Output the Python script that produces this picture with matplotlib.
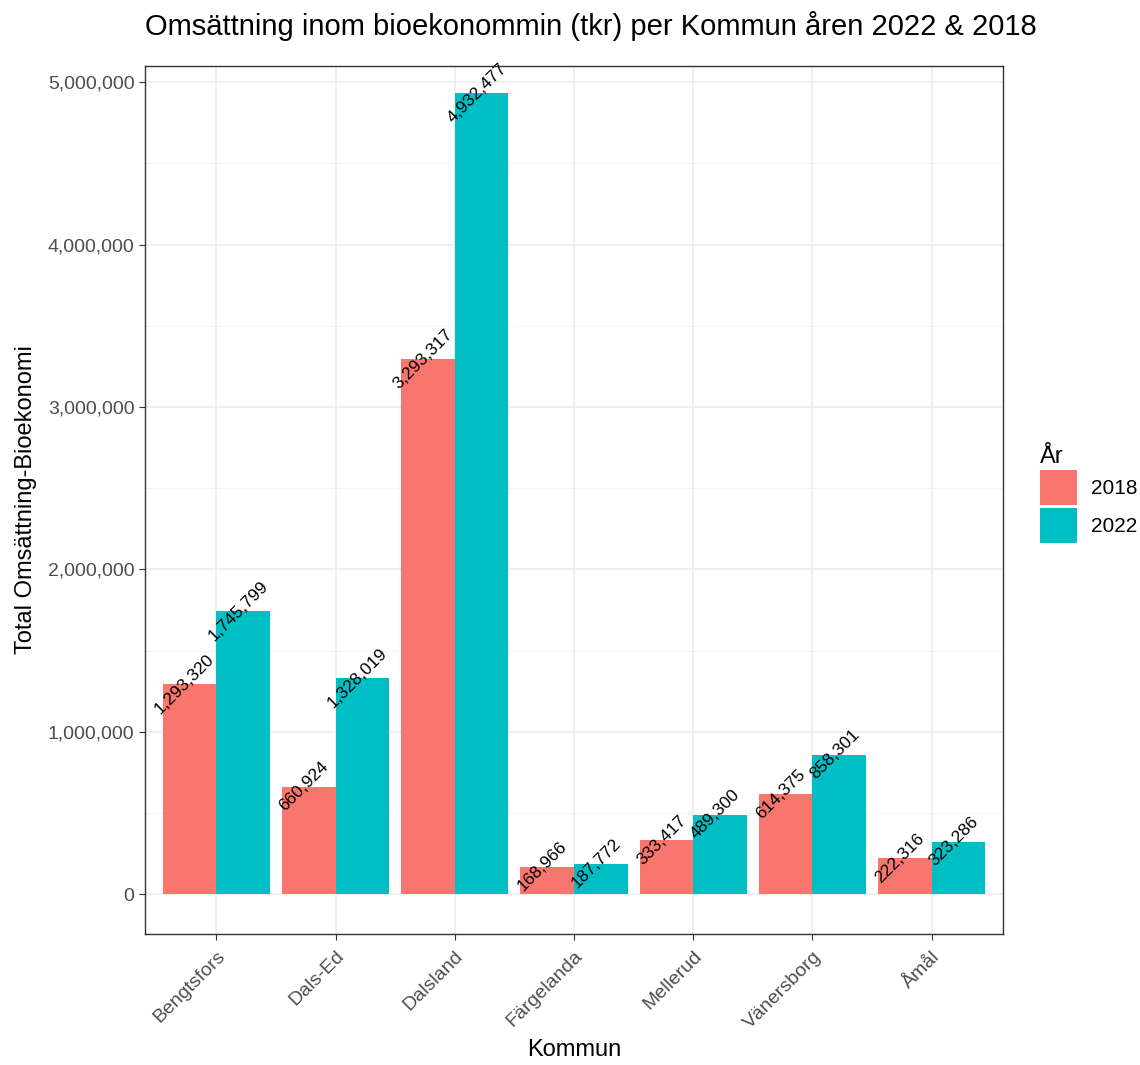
import numpy as np
import matplotlib
matplotlib.use("Agg")
import matplotlib.pyplot as plt
from matplotlib.patches import Patch
from matplotlib.ticker import FuncFormatter, MultipleLocator

plt.rcParams['font.family'] = ['Liberation Sans', 'DejaVu Sans']

kommuner = ['Bengtsfors', 'Dals-Ed', 'Dalsland', 'Färgelanda', 'Mellerud', 'Vänersborg', 'Åmål']
omsattning_2018 = [1293320, 660924, 3293317, 168966, 333417, 614375, 222316]
omsattning_2022 = [1745799, 1328019, 4932477, 187772, 489300, 858301, 323286]
ar = ['2018', '2022']
farger = ['#F8766D', '#00BFC4']

fig = plt.figure(figsize=(11.4, 10.65), dpi=100)
ax = fig.add_axes([0.127, 0.123, 0.753, 0.815])

x = np.arange(len(kommuner))
bredd = 0.45
for i, (varden, farg) in enumerate(zip([omsattning_2018, omsattning_2022], farger)):
    pos = x - bredd / 2 + i * bredd
    ax.bar(pos, varden, width=bredd, color=farg, zorder=3)
    # etiketter vridna 45 grader, centrerade på stapelns topp
    for p, v in zip(pos, varden):
        ax.text(p - 0.04, v, f"{v:,}", rotation=45, ha='center', va='center',
                rotation_mode='anchor', fontsize=12.5, color='black', zorder=4)

ax.set_xlim(-0.6, len(kommuner) - 0.4)
ax.set_ylim(-246000, 5100000)
ax.yaxis.set_major_locator(MultipleLocator(1000000))
ax.yaxis.set_minor_locator(MultipleLocator(500000))
ax.yaxis.set_major_formatter(FuncFormatter(lambda v, p: f"{int(v):,}"))
ax.set_xticks(x)
ax.set_xticklabels(kommuner, rotation=45, ha='right', va='top', rotation_mode='anchor')

ax.grid(True, which='major', color='#EBEBEB', linewidth=1.1, zorder=0)
ax.grid(True, which='minor', axis='y', color='#F2F2F2', linewidth=0.6, zorder=0)
ax.set_axisbelow(True)
for s in ax.spines.values():
    s.set_color('#333333')
    s.set_linewidth(1.0)
ax.tick_params(axis='both', which='major', colors='#333333', labelcolor='#4D4D4D',
               labelsize=14, length=4)
ax.tick_params(axis='x', pad=6)
ax.tick_params(axis='y', which='minor', length=0)

ax.set_xlabel('Kommun', fontsize=17, labelpad=5)
ax.set_ylabel('Total Omsättning-Bioekonomi', fontsize=17, labelpad=8)
ax.set_title('Omsättning inom bioekonommin (tkr) per Kommun åren 2022 & 2018',
             fontsize=21, loc='left', x=0.0, pad=22)

handles = [Patch(facecolor=f, edgecolor='none') for f in farger]
leg = fig.legend(handles, ar, title='År', loc='center left',
                 bbox_to_anchor=(0.896, 0.536), frameon=False, fontsize=15,
                 title_fontsize=17, handlelength=1.75, handleheight=2.2,
                 handletextpad=0.7, labelspacing=0.12)
leg._legend_box.align = 'left'

fig.savefig('out.png', dpi=100)
